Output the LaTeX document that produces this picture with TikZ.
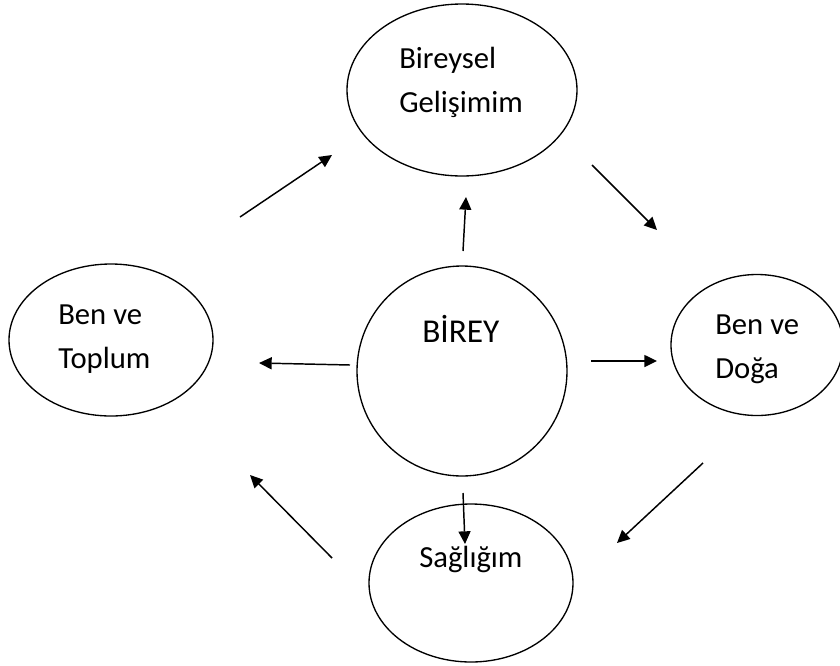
\documentclass[tikz,border=0pt]{standalone}
\usepackage{fontspec}
\setmainfont{Carlito}
\usetikzlibrary{shapes.geometric, arrows.meta}

\begin{document}
\begin{tikzpicture}[x=0.75pt, y=-0.75pt,
    oval/.style={draw, ellipse, line width=1pt, inner sep=0pt},
    lbl/.style={anchor=base west, inner sep=0pt, align=left, font=\fontsize{23}{33}\selectfont},
    arr/.style={line width=1.1pt, -{Triangle[length=9.5pt, width=9pt]}}]
    \useasboundingbox (0,0) rectangle (840,665);
    % ovals
    \node [oval, minimum width=172.5pt, minimum height=129pt] (gelisim) at (462,90) {};
    \node [oval, minimum width=153pt, minimum height=114pt] (toplum) at (111,340) {};
    \node [draw, circle, line width=1pt, inner sep=0pt, minimum size=157.5pt] (birey) at (462,371) {};
    \node [oval, minimum width=129pt, minimum height=105.75pt] (doga) at (757,345) {};
    \node [oval, minimum width=153pt, minimum height=118.5pt] (saglik) at (471,583) {};
    % texts (base = baseline of last line)
    \node [lbl] (tgelisim) at (399,112) {Bireysel\\Gelişimim};
    \node [lbl] (ttoplum) at (58,368) {Ben ve\\Toplum};
    \node [lbl, font=\fontsize{25}{30}\selectfont] (tbirey) at (422,342) {BİREY};
    \node [lbl] (tdoga) at (715,378) {Ben ve\\Doğa};
    \node [lbl] (tsaglik) at (419,567) {Sağlığım};
    % arrow ends
    \coordinate (s1) at (240,217); \coordinate (e1) at (332,155);
    \coordinate (s2) at (592,165); \coordinate (e2) at (657,230);
    \coordinate (s3) at (463,251); \coordinate (e3) at (466,197);
    \coordinate (s4) at (350,365); \coordinate (e4) at (259,363);
    \coordinate (s5) at (591,361); \coordinate (e5) at (657,361);
    \coordinate (s6) at (703,463); \coordinate (e6) at (617,543);
    \coordinate (s7) at (332,558); \coordinate (e7) at (250,475);
    \coordinate (s8) at (463,493); \coordinate (e8) at (465,544);
    % arrows
    \draw [arr] (s1) -- (e1);
    \draw [arr] (s2) -- (e2);
    \draw [arr] (s3) -- (e3);
    \draw [arr] (s4) -- (e4);
    \draw [arr] (s5) -- (e5);
    \draw [arr] (s6) -- (e6);
    \draw [arr] (s7) -- (e7);
    \draw [arr] (s8) -- (e8);
\end{tikzpicture}
\end{document}
